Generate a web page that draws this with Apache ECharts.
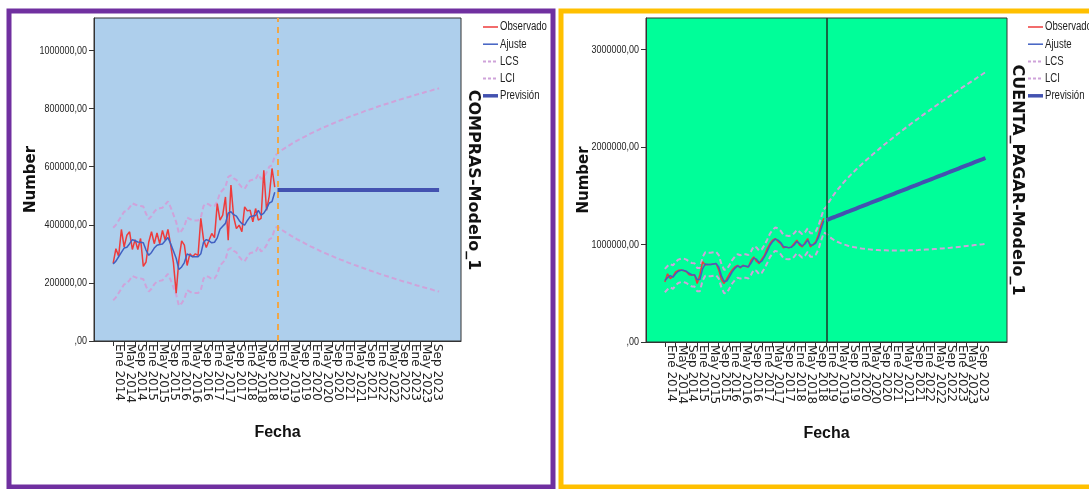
<!DOCTYPE html>
<html>
<head>
<meta charset="utf-8">
<script src="https://cdn.jsdelivr.net/npm/echarts@6/dist/echarts.min.js"></script>
<style>
  html, body { margin: 0; padding: 0; background: #fff; }
  #main { width: 1089px; height: 489px; }
</style>
</head>
<body>
<div id="main"></div>
<script>
// ---------------------------------------------------------------------------
// Datos (miles). Mes 0 = Ene 2014; histórico 0..59, previsión 60..119
// ---------------------------------------------------------------------------
const MONTHS = ['Ene', 'Feb', 'Mar', 'Abr', 'May', 'Jun', 'Jul', 'Ago', 'Sep', 'Oct', 'Nov', 'Dic'];
const FIRST = -7, LAST = 127;          // extensión del eje en meses
const LEGEND_NAMES = ['Observado', 'Ajuste', 'LCS', 'LCI', 'Previsión'];

// COMPRAS
const comprasObs = [
  267, 318, 292, 384, 324, 364, 376, 315, 349, 315,
  353, 257, 272, 341, 376, 335, 372, 335, 381, 347,
  384, 330, 270, 165, 280, 345, 330, 260, 300, 290,
  300, 295, 422, 349, 322, 347, 370, 356, 473, 416,
  433, 496, 347, 537, 427, 387, 399, 376, 462, 448,
  450, 410, 456, 416, 422, 588, 450, 500, 594, 530
];
const comprasFit = [
  265, 275, 290, 305, 320, 323, 335, 349, 345, 341,
  340, 338, 313, 295, 305, 320, 330, 332, 334, 345,
  356, 335, 310, 285, 246, 255, 270, 300, 295, 290,
  290, 290, 300, 340, 349, 345, 338, 340, 355, 385,
  395, 405, 440, 445, 435, 430, 415, 404, 399, 415,
  428, 430, 432, 450, 433, 440, 455, 475, 480, 512
];
const comprasLcsHist = [
  390, 400, 415, 430, 445, 448, 460, 474, 470, 466,
  465, 463, 438, 420, 430, 445, 455, 457, 459, 470,
  481, 460, 435, 410, 371, 380, 395, 425, 420, 415,
  415, 415, 425, 465, 474, 470, 463, 465, 480, 510,
  520, 530, 565, 570, 560, 555, 540, 529, 524, 540,
  553, 555, 557, 575, 558, 565, 580, 600, 605, 637
];
const comprasLciHist = [
  140, 150, 165, 180, 195, 198, 210, 224, 220, 216,
  215, 213, 188, 170, 180, 195, 205, 207, 209, 220,
  231, 210, 185, 160, 121, 130, 145, 175, 170, 165,
  165, 165, 175, 215, 224, 220, 213, 215, 230, 260,
  270, 280, 315, 320, 310, 305, 290, 279, 274, 290,
  303, 305, 307, 325, 308, 315, 330, 350, 355, 387
];
const comprasPrev = [
  520, 520, 520, 520, 520, 520, 520, 520, 520, 520,
  520, 520, 520, 520, 520, 520, 520, 520, 520, 520,
  520, 520, 520, 520, 520, 520, 520, 520, 520, 520,
  520, 520, 520, 520, 520, 520, 520, 520, 520, 520,
  520, 520, 520, 520, 520, 520, 520, 520, 520, 520,
  520, 520, 520, 520, 520, 520, 520, 520, 520, 520
];
const comprasLcsPrev = [
  646, 653, 660, 666, 672, 678, 684, 689, 694, 699,
  704, 709, 714, 718, 723, 727, 732, 736, 740, 744,
  748, 752, 756, 760, 763, 767, 771, 774, 778, 781,
  785, 788, 792, 795, 798, 801, 805, 808, 811, 814,
  817, 820, 823, 826, 829, 832, 835, 838, 840, 843,
  846, 849, 851, 854, 857, 860, 862, 865, 867, 870
];
const comprasLciPrev = [
  394, 387, 380, 374, 368, 362, 357, 351, 346, 341,
  336, 331, 326, 322, 317, 313, 308, 304, 300, 296,
  292, 288, 284, 280, 277, 273, 269, 266, 262, 259,
  255, 252, 249, 245, 242, 239, 236, 232, 229, 226,
  223, 220, 217, 214, 211, 208, 205, 203, 200, 197,
  194, 191, 189, 186, 183, 181, 178, 175, 173, 170
];

// CUENTA_PAGAR
const cuentaObs = [
  616, 700, 650, 672, 720, 735, 738, 730, 720, 690,
  684, 690, 600, 690, 822, 790, 795, 795, 800, 805,
  740, 640, 600, 650, 700, 740, 770, 787, 760, 787,
  775, 770, 839, 873, 828, 804, 850, 890, 958, 1010,
  1044, 1061, 1030, 1010, 965, 976, 965, 976, 1010, 1044,
  993, 976, 1020, 1061, 976, 1000, 1027, 1100, 1200, 1270
];
const cuentaFit = [
  630, 660, 680, 665, 700, 725, 735, 735, 725, 705,
  690, 688, 640, 640, 750, 800, 795, 795, 800, 805,
  770, 680, 620, 625, 670, 720, 755, 780, 770, 780,
  780, 772, 810, 860, 850, 815, 830, 875, 930, 990,
  1030, 1055, 1045, 1020, 980, 972, 968, 972, 995, 1030,
  1010, 985, 1005, 1045, 995, 995, 1015, 1070, 1160, 1240
];
const cuentaLcsHist = [
  750, 780, 800, 785, 820, 845, 855, 855, 845, 825,
  810, 808, 760, 760, 870, 920, 915, 915, 920, 925,
  890, 800, 740, 745, 790, 840, 875, 900, 890, 900,
  900, 892, 930, 980, 970, 935, 950, 995, 1050, 1110,
  1150, 1175, 1165, 1140, 1100, 1092, 1088, 1092, 1115, 1150,
  1130, 1105, 1125, 1165, 1115, 1115, 1135, 1190, 1280, 1360
];
const cuentaLciHist = [
  510, 540, 560, 545, 580, 605, 615, 615, 605, 585,
  570, 568, 520, 520, 630, 680, 675, 675, 680, 685,
  650, 560, 500, 505, 550, 600, 635, 660, 650, 660,
  660, 652, 690, 740, 730, 695, 710, 755, 810, 870,
  910, 935, 925, 900, 860, 852, 848, 852, 875, 910,
  890, 865, 885, 925, 875, 875, 895, 950, 1040, 1120
];
const cuentaPrev = [
  1250, 1261, 1272, 1282, 1293, 1304, 1315, 1326, 1336, 1347,
  1358, 1369, 1380, 1390, 1401, 1412, 1423, 1434, 1444, 1455,
  1466, 1477, 1488, 1498, 1509, 1520, 1531, 1542, 1552, 1563,
  1574, 1585, 1596, 1606, 1617, 1628, 1639, 1650, 1660, 1671,
  1682, 1693, 1704, 1714, 1725, 1736, 1747, 1758, 1768, 1779,
  1790, 1801, 1812, 1822, 1833, 1844, 1855, 1866, 1876, 1887
];
const cuentaLcsPrev = [
  1389, 1440, 1484, 1522, 1558, 1592, 1625, 1656, 1685, 1714,
  1742, 1769, 1796, 1821, 1846, 1872, 1896, 1921, 1944, 1967,
  1991, 2014, 2036, 2058, 2080, 2102, 2124, 2146, 2167, 2188,
  2209, 2230, 2251, 2271, 2291, 2312, 2332, 2352, 2371, 2391,
  2411, 2431, 2450, 2469, 2488, 2508, 2527, 2546, 2564, 2583,
  2602, 2621, 2640, 2657, 2676, 2694, 2713, 2731, 2749, 2767
];
const cuentaLciPrev = [
  1111, 1082, 1060, 1042, 1028, 1016, 1005, 996, 987, 980,
  974, 969, 964, 959, 956, 952, 950, 947, 944, 943,
  941, 940, 940, 938, 938, 938, 938, 938, 938, 938,
  939, 940, 941, 942, 943, 945, 946, 948, 949, 951,
  953, 955, 958, 959, 962, 965, 967, 970, 972, 975,
  978, 981, 984, 987, 990, 994, 997, 1001, 1003, 1007
];

const comprasTicks = [0, 200000, 400000, 600000, 800000, 1000000];
const cuentaTicks = [0, 1000000, 2000000, 3000000];

// ---------------------------------------------------------------------------
const SANS = '"Liberation Sans", Arial, sans-serif';
const WIDE = '"DejaVu Sans", sans-serif';

const STYLES = {
    'Observado': { color: '#EE3B3B', width: 1.5 },
    'Ajuste':    { color: '#4160C2', width: 1.5 },
    'LCS':       { color: '#CFA3DA', width: 2, type: [5, 3] },
    'LCI':       { color: '#CFA3DA', width: 2, type: [5, 3] },
    'Previsión': { color: '#4352B0', width: 4 }
};

const categories = [];
for (let m = FIRST; m <= LAST; m++) {
    categories.push(MONTHS[((m % 12) + 12) % 12] + ' ' + (2014 + Math.floor(m / 12)));
}

// coloca una serie (miles) a partir del mes indicado
function place(arr, startMonth) {
    const out = new Array(categories.length).fill(null);
    arr.forEach((v, i) => { out[startMonth - FIRST + i] = v * 1000; });
    return out;
}

function labelMonth(idx) {
    const m = idx + FIRST;
    return m >= 0 && m <= 116 && m % 4 === 0;
}
// los extremos del eje llevan una etiqueta vacía para que ECharts no oculte
// la segunda / penúltima etiqueta real por solape
function labelSlot(idx) {
    return idx === 0 || idx === categories.length - 1 || labelMonth(idx);
}

const yLabel = v => (v === 0 ? ',00' : v + ',00');

function buildPanel(i, p) {
    const line = (name, data, z) => ({
        type: 'line', name, data, xAxisIndex: i, yAxisIndex: i,
        symbol: 'none', silent: true, z, color: STYLES[name].color, lineStyle: STYLES[name]
    });
    const obs = line('Observado', place(p.obs, 0), 3);
    obs.markLine = {
        silent: true, symbol: ['none', 'none'], label: { show: false },
        lineStyle: p.markStyle, data: [{ xAxis: 60 - FIRST }]
    };
    return {
        grid: {
            left: p.left, top: 18, width: p.width, height: p.height, show: true,
            backgroundColor: p.bg, borderColor: '#333', borderWidth: 1
        },
        xAxis: {
            type: 'category', gridIndex: i, data: categories, boundaryGap: false,
            name: 'Fecha', nameLocation: 'middle', nameGap: 84, nameMoveOverlap: false,
            nameTextStyle: { fontFamily: SANS, fontWeight: 'bold', fontSize: 16, color: '#111' },
            axisLine: { lineStyle: { color: '#333' } },
            axisTick: { interval: labelMonth, length: 5, lineStyle: { color: '#333' } },
            axisLabel: {
                interval: labelSlot, rotate: -90, margin: 3, verticalAlign: 'bottom',
                hideOverlap: false,
                formatter: (val, idx) => (labelMonth(idx) ? val : ' '),
                fontFamily: WIDE, fontSize: 12, color: '#222'
            },
            splitLine: { show: false }
        },
        yAxis: {
            type: 'value', gridIndex: i, min: 0, max: p.yMax,
            name: 'Number', nameLocation: 'middle', nameGap: p.nameGap, nameMoveOverlap: false,
            nameTextStyle: { fontFamily: WIDE, fontWeight: 'bold', fontSize: 15, color: '#111' },
            axisLine: { show: true, lineStyle: { color: '#333' } },
            axisTick: { show: true, length: 5, customValues: p.ticks, lineStyle: { color: '#333' } },
            // etiquetas dibujadas aparte (texto estrecho)
            axisLabel: { show: false },
            splitLine: { show: false }
        },
        series: [
            line('LCS', place(p.lcsHist.concat(p.lcsPrev), 0), 2),
            line('LCI', place(p.lciHist.concat(p.lciPrev), 0), 2),
            obs,
            line('Ajuste', place(p.fit, 0), 4),
            line('Previsión', place(p.prev, 60), 5)
        ]
    };
}

// leyenda dibujada a mano: texto estrecho como en el original
function legendGroup(x, y) {
    const children = [];
    LEGEND_NAMES.forEach((name, k) => {
        const s = STYLES[name];
        const cy = 7 + k * 17.2;
        children.push({
            type: 'line', shape: { x1: 0, y1: cy, x2: 15, y2: cy },
            style: { stroke: s.color, lineWidth: s.width === 4 ? 3.5 : s.width, lineDash: s.type ? [3, 2] : null }
        });
        children.push({
            type: 'text', x: 17, y: cy, scaleX: 0.8,
            style: { text: name, font: '12px ' + SANS, fill: '#222', verticalAlign: 'middle' }
        });
    });
    return { type: 'group', x, y, children };
}

const PANELS = [
    {
        left: 94, width: 367, height: 323, bg: '#AECFEC', yMax: 1112000, nameGap: 55,
        ticks: comprasTicks, obs: comprasObs, fit: comprasFit,
        lcsHist: comprasLcsHist, lciHist: comprasLciHist,
        prev: comprasPrev, lcsPrev: comprasLcsPrev, lciPrev: comprasLciPrev,
        markStyle: { color: '#F0A646', width: 2, type: [6, 5] }
    },
    {
        left: 646, width: 361, height: 324, bg: '#00FE99', yMax: 3323000, nameGap: 54,
        ticks: cuentaTicks, obs: cuentaObs, fit: cuentaFit,
        lcsHist: cuentaLcsHist, lciHist: cuentaLciHist,
        prev: cuentaPrev, lcsPrev: cuentaLcsPrev, lciPrev: cuentaLciPrev,
        markStyle: { color: '#1E3528', width: 1.5, type: 'solid' }
    }
];
const built = PANELS.map((p, i) => buildPanel(i, p));

const graphics = [
    { type: 'rect', shape: { x: 9, y: 11, width: 544, height: 476 },
      style: { fill: null, stroke: '#7030A0', lineWidth: 5 }, z: 10 },
    { type: 'rect', shape: { x: 561, y: 11, width: 540, height: 476 },
      style: { fill: null, stroke: '#FFC000', lineWidth: 5 }, z: 10 },
    legendGroup(483, 20),
    legendGroup(1028, 20),
    { type: 'text', x: 473, y: 180, rotation: -Math.PI / 2,
      style: { text: 'COMPRAS-Modelo_1', font: 'bold 16px ' + WIDE,
               fill: '#111', align: 'center', verticalAlign: 'middle' } },
    { type: 'text', x: 1017, y: 180, rotation: -Math.PI / 2,
      style: { text: 'CUENTA_PAGAR-Modelo_1', font: 'bold 16px ' + WIDE,
               fill: '#111', align: 'center', verticalAlign: 'middle' } }
];

const chart = echarts.init(document.getElementById('main'), null, { renderer: 'canvas' });
chart.setOption({
    animation: false,
    backgroundColor: '#fff',
    textStyle: { fontFamily: SANS },
    grid: built.map(b => b.grid),
    xAxis: built.map(b => b.xAxis),
    yAxis: built.map(b => b.yAxis),
    series: [].concat(...built.map(b => b.series)),
    graphic: graphics
});

// etiquetas del eje Y situadas con la escala del propio eje
const yLabels = [];
PANELS.forEach((p, i) => {
    p.ticks.forEach(v => {
        const py = chart.convertToPixel({ yAxisIndex: i }, v);
        yLabels.push({
            type: 'text', x: p.left - 7, y: py, scaleX: 0.78,
            style: { text: yLabel(v), font: '11.5px ' + SANS, fill: '#222',
                     align: 'right', verticalAlign: 'middle' }
        });
    });
});
chart.setOption({ graphic: graphics.concat(yLabels) });
</script>
</body>
</html>
